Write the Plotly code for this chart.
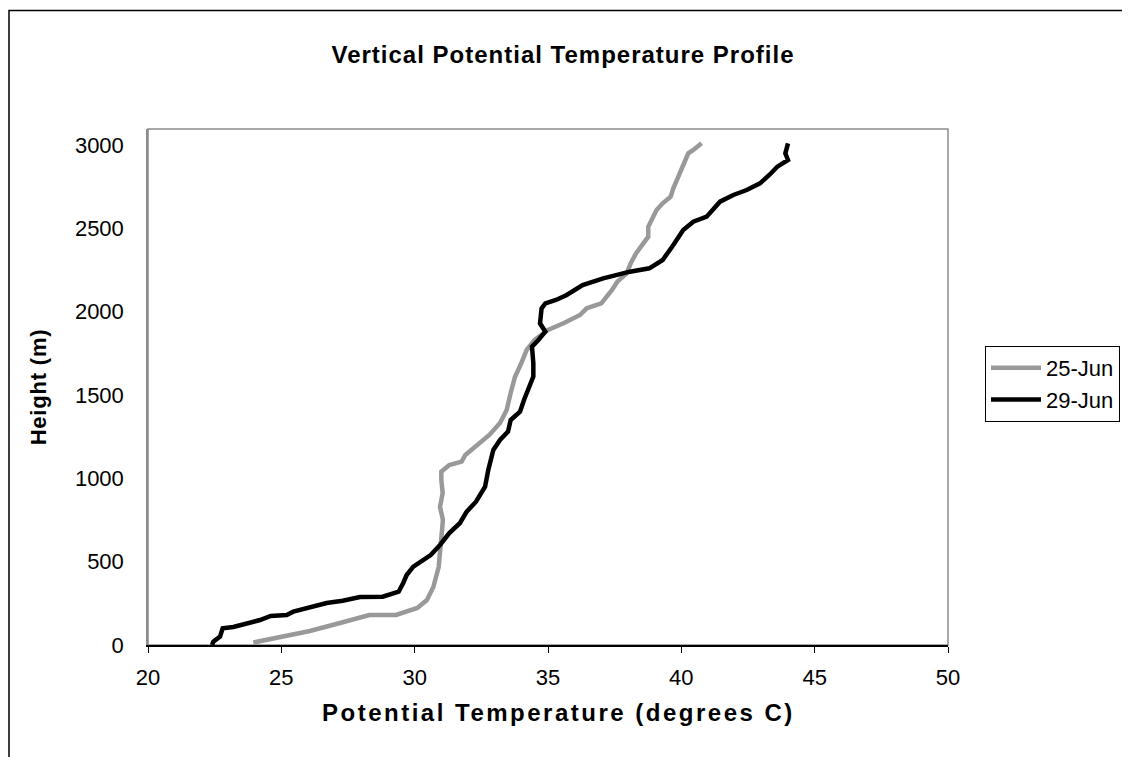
import plotly.graph_objects as go

# 25-Jun profile
temp_25jun = [23.95, 24.95, 26.07, 27.2, 28.3, 29.3, 30.1, 30.46, 30.7, 30.9, 30.95, 31.0,
              31.06, 30.95, 31.05, 31.0, 31.0, 31.3, 31.76, 31.9, 32.2, 32.8, 33.2, 33.45,
              33.6, 33.76, 34.0, 34.2, 34.5, 35.0, 35.6, 36.2, 36.45, 37.0, 37.4, 37.6,
              37.95, 38.1, 38.3, 38.6, 38.76, 38.76, 38.9, 39.07, 39.3, 39.6, 39.7, 39.9,
              40.07, 40.26, 40.45, 40.76]
height_25jun = [15, 48, 84, 132, 180, 180, 222, 270, 348, 468, 552, 630,
                750, 828, 912, 990, 1040, 1080, 1100, 1140, 1182, 1260, 1332, 1410,
                1512, 1608, 1692, 1770, 1830, 1890, 1932, 1980, 2020, 2050, 2130, 2180,
                2230, 2290, 2350, 2410, 2450, 2510, 2560, 2610, 2650, 2690, 2740, 2810,
                2880, 2950, 2970, 3010]

# 29-Jun profile
temp_29jun = [22.4, 22.45, 22.7, 22.8, 23.2, 23.8, 24.2, 24.6, 25.2, 25.45, 26.07, 26.7,
              27.3, 27.95, 28.8, 29.4, 29.57, 29.7, 29.95, 30.2, 30.6, 30.95, 31.3, 31.7,
              31.95, 32.3, 32.45, 32.64, 32.76, 32.95, 33.2, 33.5, 33.6, 33.95, 34.1, 34.3,
              34.45, 34.45, 34.4, 34.64, 34.9, 34.7, 34.76, 34.9, 35.3, 35.7, 36.07, 36.3,
              37.07, 38.07, 38.8, 39.3, 39.7, 40.07, 40.45, 40.95, 41.45, 41.95, 42.45,
              42.95, 43.3, 43.6, 44.0, 43.9, 44.0]
height_29jun = [0, 20, 50, 100, 108, 132, 150, 174, 180, 200, 228, 252,
                266, 288, 290, 320, 372, 420, 470, 500, 540, 600, 672, 732,
                800, 860, 900, 950, 1050, 1170, 1230, 1280, 1350, 1400, 1470, 1550,
                1610, 1690, 1790, 1830, 1880, 1930, 2020, 2050, 2070, 2100, 2140, 2160,
                2200, 2240, 2260, 2310, 2400, 2490, 2540, 2570, 2660, 2700, 2730,
                2770, 2820, 2870, 2910, 2950, 3010]

x_ticks = [20, 25, 30, 35, 40, 45, 50]
y_ticks = [0, 500, 1000, 1500, 2000, 2500, 3000]

FONT = "Liberation Sans, Arial, sans-serif"

# plot area in figure pixels
L, T, W, H = 140, 121, 800, 516

fig = go.Figure()
fig.add_trace(go.Scatter(x=temp_25jun, y=height_25jun, mode="lines", name="25-Jun",
                         line=dict(color="#999999", width=4.5)))
fig.add_trace(go.Scatter(x=temp_29jun, y=height_29jun, mode="lines", name="29-Jun",
                         line=dict(color="#000000", width=4.5)))

# outer chart border
fig.add_shape(type="rect", xref="paper", yref="paper",
              x0=(1 - L) / W, x1=1.6, y0=-0.6, y1=(T + H - 2.5) / H,
              line=dict(color="#000000", width=1.5), layer="below")
# plot-area border
fig.add_shape(type="rect", xref="paper", yref="paper", x0=0, x1=1, y0=0, y1=1,
              line=dict(color="#8c8c8c", width=1.5), layer="below")

# x-axis title
fig.add_annotation(text="<b><span style='letter-spacing:2.5px'>Potential Temperature (degrees C)</span></b>",
                   xref="paper", yref="paper", x=(550 - L) / W, y=-(704 - T - H) / H,
                   xanchor="center", yanchor="middle", showarrow=False,
                   font=dict(size=24, family=FONT, color="#000000"))

fig.update_layout(
    width=1130, height=757,
    margin=dict(l=L, r=1130 - L - W, t=T, b=757 - T - H),
    paper_bgcolor="white", plot_bgcolor="white",
    font=dict(family=FONT, color="#000000", size=22),
    title=dict(text="<b><span style='letter-spacing:1px'>Vertical Potential Temperature Profile</span></b>",
               x=(555 - L) / W, xref="paper", xanchor="center",
               y=1 - 47 / 757, yanchor="middle",
               font=dict(size=24, family=FONT)),
    xaxis=dict(range=[20, 50], tickvals=x_ticks, ticks="outside", ticklen=6,
               tickcolor="#000000", showgrid=False, zeroline=False,
               showline=True, linecolor="#000000", linewidth=1.5,
               tickfont=dict(size=22), ticklabelstandoff=6),
    yaxis=dict(range=[0, 3096], tickvals=y_ticks, ticks="",
               showgrid=False, zeroline=False,
               showline=True, linecolor="#8c8c8c", linewidth=1.5,
               tickfont=dict(size=22), ticklabelstandoff=18,
               title=dict(text="<b><span style='letter-spacing:0.8px'>Height (m)</span></b>",
                          font=dict(size=22), standoff=22)),
    legend=dict(x=(977 - L) / W, xanchor="left", y=(T + H - 338) / H, yanchor="top",
                bordercolor="#000000", borderwidth=1, bgcolor="white",
                font=dict(size=22), itemwidth=50, tracegroupgap=0),
    showlegend=True,
)

fig.write_html("out.html")
